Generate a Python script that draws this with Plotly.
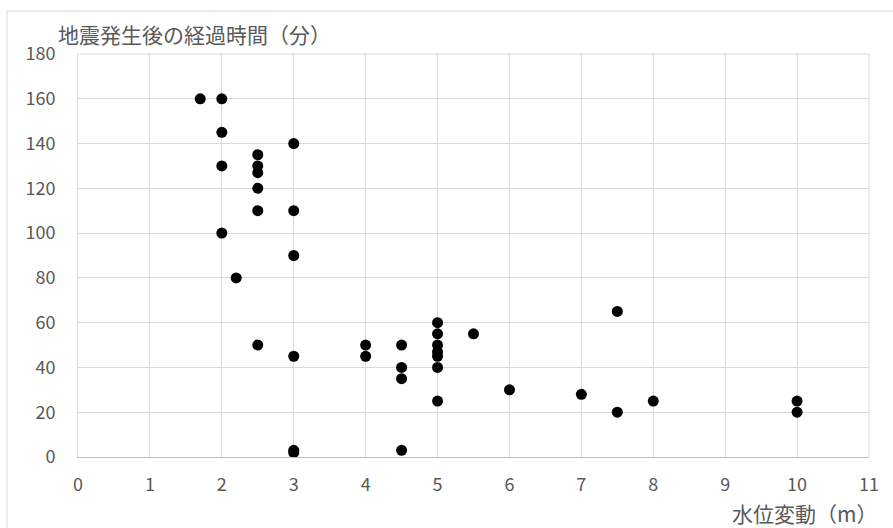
import plotly.graph_objects as go

# Water-level change (m) vs. minutes elapsed after the earthquake
water_level_m = [
    1.7, 2, 2, 2, 2, 2.2,
    2.5, 2.5, 2.5, 2.5, 2.5, 2.5,
    3, 3, 3, 3, 3, 3,
    4, 4,
    4.5, 4.5, 4.5, 4.5,
    5, 5, 5, 5, 5, 5, 5,
    5.5, 6, 7, 7.5, 7.5, 8, 10, 10,
]
elapsed_min = [
    160, 160, 145, 130, 100, 80,
    135, 130, 127, 120, 110, 50,
    140, 110, 90, 45, 3, 2,
    50, 45,
    50, 40, 35, 3,
    60, 55, 50, 47, 45, 40, 25,
    55, 30, 28, 65, 20, 25, 25, 20,
]

x_ticks = list(range(0, 12))
y_ticks = list(range(0, 181, 20))

x_title = "水位変動（m）"
y_title = "地震発生後の経過時間（分）"

FONT = "Noto Sans CJK JP"
TEXT_GRAY = "#595959"
GRID = "#d9d9d9"

fig = go.Figure(
    go.Scatter(
        x=water_level_m,
        y=elapsed_min,
        mode="markers",
        marker=dict(color="black", size=11, line=dict(width=0)),
        hoverinfo="x+y",
    )
)

fig.update_layout(
    width=893,
    height=528,
    margin=dict(l=78, r=24, t=54, b=71),
    paper_bgcolor="white",
    plot_bgcolor="white",
    showlegend=False,
    font=dict(family=FONT, color=TEXT_GRAY, size=18),
    xaxis=dict(
        range=[0, 11],
        tickvals=x_ticks,
        ticktext=[str(v) for v in x_ticks],
        showgrid=True,
        gridcolor=GRID,
        gridwidth=1,
        zeroline=False,
        showline=True,
        linecolor="#bfbfbf",
        linewidth=1,
        ticks="",
        ticklabelstandoff=11,
        tickfont=dict(size=18, color=TEXT_GRAY, family=FONT),
    ),
    yaxis=dict(
        range=[0, 180],
        tickvals=y_ticks,
        ticktext=[str(v) for v in y_ticks],
        showgrid=True,
        gridcolor=GRID,
        gridwidth=1,
        zeroline=False,
        showline=True,
        linecolor=GRID,
        linewidth=1,
        ticks="",
        ticklabelstandoff=18,
        tickfont=dict(size=18, color=TEXT_GRAY, family=FONT),
    ),
    shapes=[
        # chart frame
        dict(
            type="rect",
            xref="paper",
            yref="paper",
            x0=(7 - 78) / 791,
            x1=(900 - 78) / 791,
            y0=(457 - 540) / 403,
            y1=(457 - 11) / 403,
            line=dict(color=GRID, width=1),
            fillcolor="rgba(0,0,0,0)",
            layer="below",
        ),
        # top and right borders of the plot area
        dict(type="line", xref="paper", yref="paper", x0=0, x1=1, y0=1, y1=1,
             line=dict(color=GRID, width=1)),
        dict(type="line", xref="paper", yref="paper", x0=1, x1=1, y0=0, y1=1,
             line=dict(color=GRID, width=1)),
    ],
    annotations=[
        dict(
            text=y_title,
            xref="paper",
            yref="paper",
            x=(56 - 78) / 791,
            y=(457 - 34) / 403,
            xanchor="left",
            yanchor="middle",
            showarrow=False,
            font=dict(size=21, color=TEXT_GRAY, family=FONT),
        ),
        dict(
            text=x_title,
            xref="paper",
            yref="paper",
            x=(879 - 78) / 791,
            y=(457 - 513) / 403,
            xanchor="right",
            yanchor="middle",
            showarrow=False,
            font=dict(size=21, color=TEXT_GRAY, family=FONT),
        ),
    ],
)

fig.write_html("out.html")
